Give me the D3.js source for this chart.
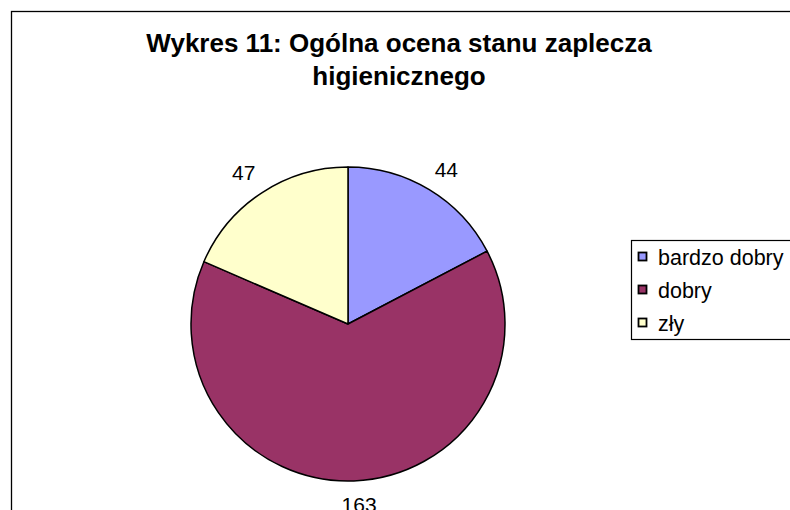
<!DOCTYPE html>
<html>
<head>
  <meta charset="utf-8">
  <title>Wykres 11</title>
  <style>
    body { margin: 0; background: #fff; }
    svg { display: block; font-family: Arial, "Liberation Sans", sans-serif; }
  </style>
  <script src="https://cdn.jsdelivr.net/npm/d3@7"></script>
</head>
<body>
  <svg id="chart" width="790" height="510"></svg>
  <script>
    // data
    const categories = ["bardzo dobry", "dobry", "zły"]
    const values = [44, 163, 47]
    const colors = ["#9999FF", "#993366", "#FFFFCC"]
    const titleLines = ["Wykres 11: Ogólna ocena stanu zaplecza", "higienicznego"]

    const svg = d3.select("#chart")

    // chart frame (runs off the right and bottom edges)
    svg.append("rect")
      .attr("x", 11.5).attr("y", 11.5)
      .attr("width", 820).attr("height", 540)
      .attr("fill", "#fff")
      .attr("stroke", "#000")
      .attr("stroke-width", 1.3)

    // title
    svg.append("g")
      .selectAll("text")
      .data(titleLines)
      .join("text")
      .attr("x", 399)
      .attr("y", (d, i) => 52 + i * 33)
      .attr("text-anchor", "middle")
      .attr("font-size", 26)
      .attr("font-weight", "bold")
      .text(d => d)

    // pie
    const cx = 348, cy = 324, r = 157
    const pie = d3.pie().sort(null).value(d => d)
    const arcs = pie(values)
    const arc = d3.arc().innerRadius(0).outerRadius(r)

    const g = svg.append("g").attr("transform", `translate(${cx},${cy})`)

    g.selectAll("path")
      .data(arcs)
      .join("path")
      .attr("d", arc)
      .attr("fill", (d, i) => colors[i])
      .attr("stroke", "#000")
      .attr("stroke-width", 1.5)
      .attr("stroke-linejoin", "round")

    // value labels outside the slices
    const rx = 190, ry = 181
    const mid = d => (d.startAngle + d.endAngle) / 2
    g.selectAll("text.val")
      .data(arcs)
      .join("text")
      .attr("class", "val")
      .attr("x", d => rx * Math.sin(mid(d)) + 4 * Math.abs(Math.cos(mid(d))) * (Math.cos(mid(d)) < 0 ? 1 : 0))
      .attr("y", d => -ry * Math.cos(mid(d)))
      .attr("text-anchor", "middle")
      .attr("dy", "0.35em")
      .attr("font-size", 21)
      .text(d => d.data)

    // legend
    const legend = svg.append("g")
    legend.append("rect")
      .attr("x", 631.5).attr("y", 240.5)
      .attr("width", 200).attr("height", 99)
      .attr("fill", "#fff")
      .attr("stroke", "#000")
      .attr("stroke-width", 1.2)

    const y = d3.scalePoint().domain(categories).range([257, 323])

    const item = legend.selectAll("g.item")
      .data(categories)
      .join("g")
      .attr("class", "item")
      .attr("transform", d => `translate(0,${y(d)})`)

    item.append("rect")
      .attr("x", 638.5).attr("y", -4.5)
      .attr("width", 8).attr("height", 8)
      .attr("fill", (d, i) => colors[i])
      .attr("stroke", "#000")
      .attr("stroke-width", 1.8)

    item.append("text")
      .attr("x", 658)
      .attr("y", 7.5)
      .attr("font-size", 21.5)
      .text(d => d)
  </script>
</body>
</html>
